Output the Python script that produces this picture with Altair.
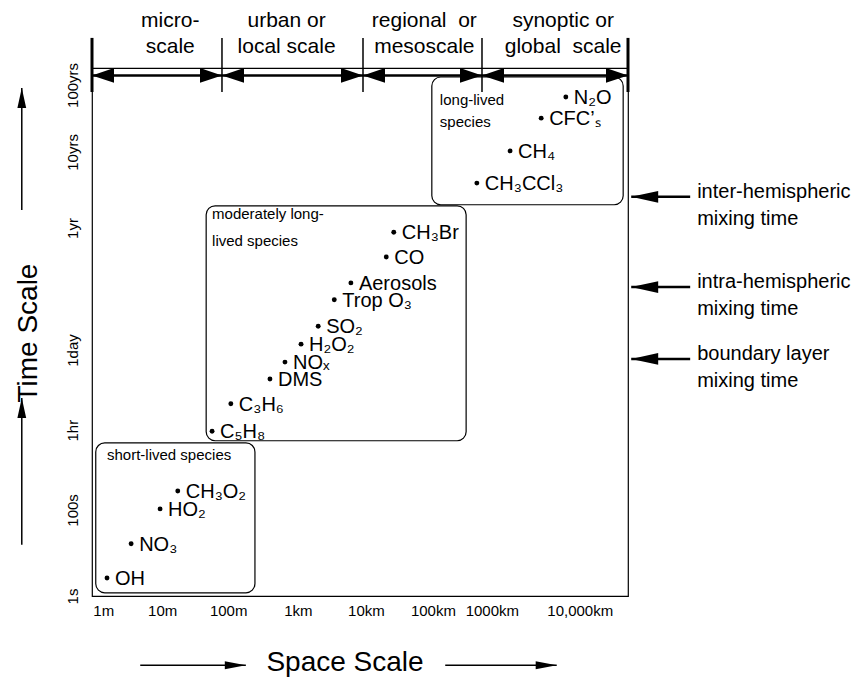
import altair as alt
import pandas as pd

FONT = "Liberation Sans"

# ---- axes (schematic positions, 0-100 across the frame) ----
x_tick_pos = [2.1, 13.1, 25.4, 38.4, 51.1, 63.6, 74.6, 91.0]
x_tick_labels = ["1m", "10m", "100m", "1km", "10km", "100km", "1000km", "10,000km"]
y_tick_pos = [0, 16.3, 31.4, 46.6, 69.7, 84.1, 96.8]
y_tick_labels = ["1s", "100s", "1hr", "1day", "1yr", "10yrs", "100yrs"]

# ---- species ----
species = ["N₂O", "CFC’ₛ", "CH₄", "CH₃CCl₃", "CH₃Br", "CO", "Aerosols", "Trop O₃",
           "SO₂", "H₂O₂", "NOₓ", "DMS", "C₃H₆", "C₅H₈", "CH₃O₂", "HO₂", "NO₃", "OH"]
species_space = [88.4, 83.8, 78.0, 71.8, 56.3, 54.9, 48.3, 45.2, 42.2, 39.0, 36.0,
                 33.2, 25.9, 22.4, 16.0, 12.7, 7.3, 2.8]
species_time = [94.5, 90.5, 84.3, 78.2, 68.9, 64.2, 59.3, 56.1, 51.1, 47.7, 44.3,
                41.1, 36.4, 31.2, 19.9, 16.5, 9.9, 3.4]

# ---- species groups (boxes) ----
group_names = ["long-lived\nspecies", "moderately long-\nlived species", "short-lived species"]
group_space_min = [63.4, 21.3, 0.7]
group_space_max = [99.1, 69.8, 30.4]
group_time_min = [74.1, 29.4, 0.6]
group_time_max = [98.3, 73.9, 29.0]
group_label_space = [64.9, 22.4, 2.8]
group_label_time = [92.9, 71.4, 25.8]

# ---- spatial regimes ----
region_names = ["micro-\nscale", "urban or\nlocal scale", "regional\u00a0 or\nmesoscale",
                "synoptic or\nglobal\u00a0 scale"]
region_edges = [0, 24.25, 50.56, 72.76, 100]
region_label_pos = [14.6, 36.3, 62.0, 87.9]

# ---- mixing times ----
mixing_names = ["inter-hemispheric\nmixing time", "intra-hemispheric\nmixing time",
                "boundary layer\nmixing time"]
mixing_time = [75.6, 58.5, 44.9]

# ---------------------------------------------------------------
xs = alt.Scale(domain=[0, 100], nice=False, zero=False)
ys = alt.Scale(domain=[0, 100], nice=False, zero=False)


def lab_expr(vals, labs):
    return ("[" + ",".join("'" + l + "'" for l in labs) + "][indexof(["
            + ",".join(str(v) for v in vals) + "], datum.value)]")


x_axis = alt.Axis(values=x_tick_pos, labelExpr=lab_expr(x_tick_pos, x_tick_labels),
                  ticks=False, tickSize=0, domain=False, grid=False, labelFontSize=15,
                  labelFontWeight="normal", labelPadding=7, labelFont=FONT,
                  labelColor="black", title=None, labelFlush=False, labelOverlap=False)
y_axis = alt.Axis(values=y_tick_pos, labelExpr=lab_expr(y_tick_pos, y_tick_labels),
                  ticks=False, tickSize=0, domain=False, grid=False, labelFontSize=15,
                  labelFontWeight="normal", labelAngle=270, labelAlign="center",
                  labelBaseline="bottom", labelPadding=12, labelFont=FONT,
                  labelColor="black", title=None, labelFlush=False, labelOverlap=False)


def X(f):
    return alt.X(f, type="quantitative", scale=xs, axis=x_axis)


def Y(f):
    return alt.Y(f, type="quantitative", scale=ys, axis=y_axis)


def arrow_path(direction, half):
    if direction == "right":
        return f"M0,0L-1,-{half}L-1,{half}Z"
    if direction == "left":
        return f"M0,0L1,-{half}L1,{half}Z"
    return f"M0,0L-{half},1L{half},1Z"  # up


layers = []

# species points + labels
df_sp = pd.DataFrame({"name": species, "s": species_space, "t": species_time})
layers.append(alt.Chart(df_sp).mark_circle(size=24, color="black", opacity=1)
              .encode(x=X("s"), y=Y("t")))
layers.append(alt.Chart(df_sp).mark_text(align="left", baseline="middle", dx=8, dy=1,
                                         fontSize=20, font=FONT, color="black")
              .encode(x=X("s"), y=Y("t"), text="name:N"))

# group boxes
df_gr = pd.DataFrame({"name": group_names, "s0": group_space_min, "s1": group_space_max,
                      "t0": group_time_min, "t1": group_time_max,
                      "ls": group_label_space, "lt": group_label_time})
df_gr["first"] = [i == 0 for i in range(len(group_names))]
layers.append(alt.Chart(df_gr).mark_rect(filled=False, stroke="black", strokeWidth=1.2,
                                         cornerRadius=9)
              .encode(x=X("s0"), x2="s1", y=Y("t0"), y2="t1"))
layers.append(alt.Chart(df_gr).transform_filter("datum.first")
              .mark_text(align="left", baseline="alphabetic", lineBreak="\n",
                         lineHeight=22, fontSize=15, font=FONT, color="black")
              .encode(x=X("ls"), y=Y("lt"), text="name:N"))
layers.append(alt.Chart(df_gr).transform_filter("!datum.first")
              .mark_text(align="left", baseline="alphabetic", lineBreak="\n",
                         lineHeight=27, fontSize=15, font=FONT, color="black")
              .encode(x=X("ls"), y=Y("lt"), text="name:N"))

# regime separators and double-headed arrows along the top
df_edges = pd.DataFrame({"e": region_edges})
df_edges["outer"] = [i in (0, len(region_edges) - 1) for i in range(len(region_edges))]
sep_lo, sep_hi, shaft_t = 95.45, 105.7, 98.6
df_edges["lo"] = sep_lo
df_edges["hi"] = sep_hi
layers.append(alt.Chart(df_edges).transform_filter("!datum.outer")
              .mark_rule(color="black", strokeWidth=1.5)
              .encode(x=X("e"), y=Y("lo"), y2="hi"))
layers.append(alt.Chart(df_edges).transform_filter("datum.outer")
              .mark_rule(color="black", strokeWidth=3)
              .encode(x=X("e"), y=Y("lo"), y2="hi"))
df_shaft = pd.DataFrame({"a": [region_edges[0]], "b": [region_edges[-1]], "t": [shaft_t]})
layers.append(alt.Chart(df_shaft).mark_rule(color="black", strokeWidth=2.5)
              .encode(x=X("a"), x2="b", y=Y("t")))
df_heads = pd.DataFrame({"start": region_edges[:-1], "end": region_edges[1:]})
df_heads["t"] = shaft_t
layers.append(alt.Chart(df_heads).mark_point(shape=arrow_path("left", 0.34), size=1936,
                                             filled=True, color="black", opacity=1)
              .encode(x=X("start"), y=Y("t")))
layers.append(alt.Chart(df_heads).mark_point(shape=arrow_path("right", 0.34), size=1936,
                                             filled=True, color="black", opacity=1)
              .encode(x=X("end"), y=Y("t")))
df_reg = pd.DataFrame({"name": region_names, "p": region_label_pos})
df_reg["t"] = 107.8
layers.append(alt.Chart(df_reg).mark_text(align="center", baseline="alphabetic", lineBreak="\n",
                                          lineHeight=26, fontSize=21, font=FONT, color="black")
              .encode(x=X("p"), y=Y("t"), text="name:N"))

# mixing-time arrows on the right
df_mix = pd.DataFrame({"name": mixing_names, "t": mixing_time})
df_mix["tip"] = 100.6
df_mix["tail"] = 111.6
df_mix["txt"] = 112.9
df_mix["tt"] = [v - 0.25 for v in mixing_time]
layers.append(alt.Chart(df_mix).mark_rule(color="black", strokeWidth=2.5)
              .encode(x=X("tip"), x2="tail", y=Y("t")))
layers.append(alt.Chart(df_mix).mark_point(shape=arrow_path("left", 0.22), size=2916,
                                           filled=True, color="black", opacity=1)
              .encode(x=X("tip"), y=Y("t")))
layers.append(alt.Chart(df_mix).mark_text(align="left", baseline="alphabetic", lineBreak="\n",
                                          lineHeight=27, fontSize=20, font=FONT, color="black")
              .encode(x=X("txt"), y=Y("tt"), text="name:N"))

# axis titles with arrows
df_sx = pd.DataFrame({"a": [9.0, 65.9], "b": [28.7, 86.7]})
df_sx["t"] = -13.1
layers.append(alt.Chart(df_sx).mark_rule(color="black", strokeWidth=1.5)
              .encode(x=X("a"), x2="b", y=Y("t")))
layers.append(alt.Chart(df_sx).mark_point(shape=arrow_path("right", 0.19), size=1764,
                                          filled=True, color="black", opacity=1)
              .encode(x=X("b"), y=Y("t")))
df_st = pd.DataFrame({"name": ["Space Scale"], "s": [47.2], "t": [-12.7]})
layers.append(alt.Chart(df_st).mark_text(align="center", baseline="middle", fontSize=28,
                                         font=FONT, color="black")
              .encode(x=X("s"), y=Y("t"), text="name:N"))

df_ty = pd.DataFrame({"a": [73.1, 9.7], "b": [96.2, 37.5]})
df_ty["s"] = -13.1
layers.append(alt.Chart(df_ty).mark_rule(color="black", strokeWidth=1.5)
              .encode(x=X("s"), y=Y("a"), y2="b"))
layers.append(alt.Chart(df_ty).mark_point(shape=arrow_path("up", 0.22), size=1600,
                                          filled=True, color="black", opacity=1)
              .encode(x=X("s"), y=Y("b")))
df_tt = pd.DataFrame({"name": ["Time Scale"], "s": [-11.8], "t": [49.8]})
layers.append(alt.Chart(df_tt).mark_text(align="center", baseline="middle", fontSize=28,
                                         angle=270, font=FONT, color="black")
              .encode(x=X("s"), y=Y("t"), text="name:N"))

chart = (alt.layer(*layers)
         .properties(width=536, height=528,
                     padding={"left": 92, "top": 68, "right": 231, "bottom": 82},
                     autosize=alt.AutoSizeParams(type="none"),
                     background="white")
         .configure_view(stroke="black", strokeWidth=1.2))

chart.save("out.html", embed_options={"renderer": "svg", "actions": False})
